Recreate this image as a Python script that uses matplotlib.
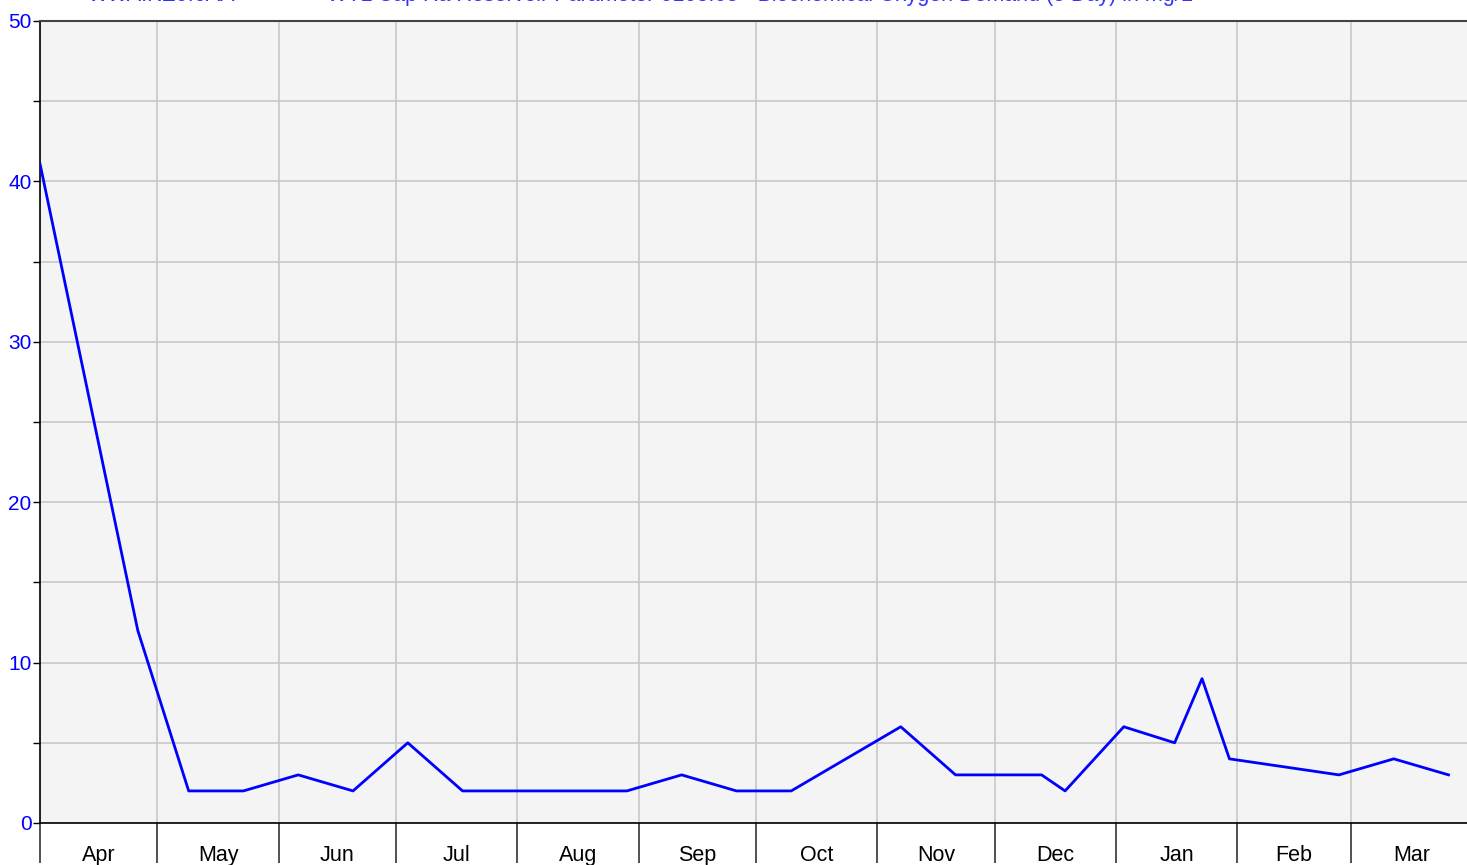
import datetime as dt

import matplotlib
matplotlib.use('Agg')
from matplotlib import pyplot as plt

plt.rcParams['font.family'] = ['Liberation Sans', 'DejaVu Sans']

# sample dates and BOD5 values (mg/L)
dates = [
    '2019-04-01', '2019-04-26', '2019-05-09', '2019-05-23', '2019-06-06',
    '2019-06-20', '2019-07-04', '2019-07-18', '2019-08-29', '2019-09-12',
    '2019-09-26', '2019-10-10', '2019-11-07', '2019-11-21', '2019-12-13',
    '2019-12-19', '2020-01-03', '2020-01-16', '2020-01-23', '2020-01-30',
    '2020-02-27', '2020-03-12', '2020-03-26',
]
values = [41.1, 12, 2, 2, 3, 2, 5, 2, 2, 3, 2, 2, 6, 3, 3, 2, 6, 5, 9, 4, 3, 4, 3]

month_labels = ['Apr', 'May', 'Jun', 'Jul', 'Aug', 'Sep', 'Oct', 'Nov',
                'Dec', 'Jan', 'Feb', 'Mar']
site_text = 'WWAIKE0.6AA'
title_text = 'WTL Cap Ra Reservoir Parameter 0103.05 - Biochemical Oxygen Demand (5 Day) in mg/L'

x = [dt.datetime.strptime(d, '%Y-%m-%d') for d in dates]
start = dt.datetime(2019, 4, 1)
end = dt.datetime(2020, 4, 1)

W, H = 1467, 865
fig = plt.figure(figsize=(W / 100, H / 100), dpi=100)
ax = fig.add_axes([40 / W, 42 / H, 1432 / W, 802 / H])
ax.set_facecolor('#f4f4f4')

ax.plot(x, values, color='#0000ff', linewidth=2.0, zorder=3)

ax.set_xlim(start, end)
ax.set_ylim(0, 50)

# month boundaries as major ticks, labels centred in the month
bounds = [dt.datetime(2019 + (3 + i) // 12, (3 + i) % 12 + 1, 1) for i in range(13)]
mids = [a + (b - a) / 2 for a, b in zip(bounds[:-1], bounds[1:])]
ax.set_xticks(bounds)
ax.set_xticklabels([])
ax.set_xticks(mids, minor=True)
ax.set_xticklabels(month_labels, minor=True)
ax.tick_params(axis='x', which='major', length=29, width=1.2, color='#333333')
ax.tick_params(axis='x', which='minor', length=0, pad=16, labelsize=15.5,
               labelcolor='black')

ax.set_yticks(range(0, 51, 10))
ax.set_yticks(range(5, 50, 10), minor=True)
ax.tick_params(axis='y', which='major', length=5, width=1, pad=1,
               labelsize=15, labelcolor='#0000ff')
ax.tick_params(axis='y', which='minor', length=5, width=1)

ax.grid(True, which='major', axis='x', color='#c8c8c8', linewidth=1.2)
ax.grid(True, which='both', axis='y', color='#c8c8c8', linewidth=1.2)
ax.set_axisbelow(True)

for side in ['left', 'bottom']:
    ax.spines[side].set_color('black')
    ax.spines[side].set_linewidth(1.2)
ax.spines['top'].set_color('#444444')
ax.spines['top'].set_linewidth(1.5)
ax.spines['right'].set_visible(False)

fig.text(88 / W, 1 - 1 / H, site_text, color='#3333ff', fontsize=15.5,
         va='baseline', ha='left')
fig.text(327 / W, 1 - 1 / H, title_text, color='#3333ff', fontsize=15.5,
         va='baseline', ha='left')

fig.savefig('out.png', dpi=100)
